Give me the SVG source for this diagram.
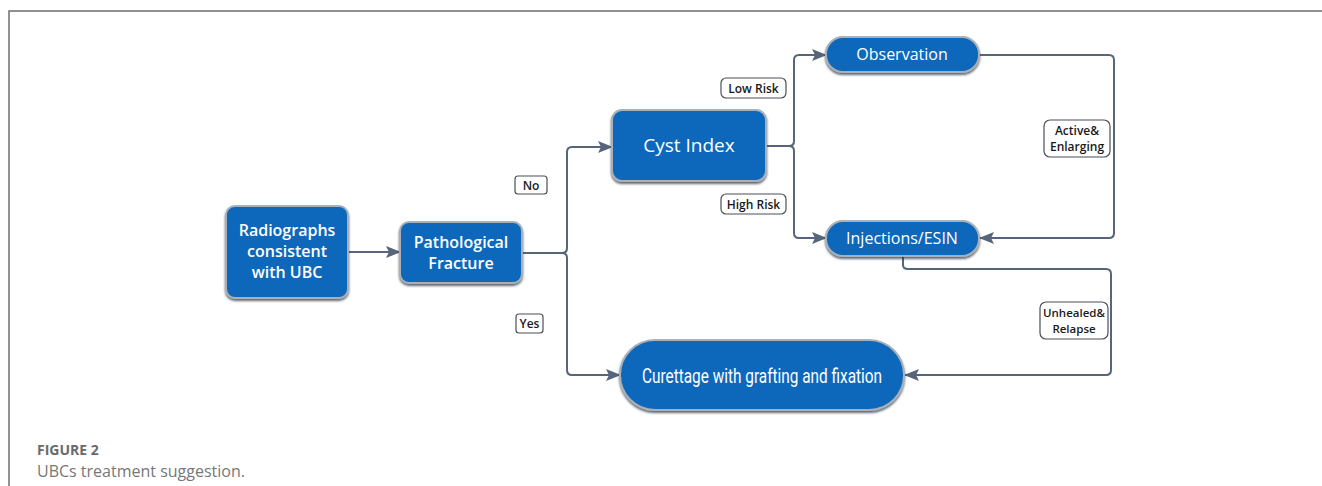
<svg xmlns="http://www.w3.org/2000/svg" width="1322" height="486" viewBox="0 0 1322 486">
<defs>
<marker id="arr" markerWidth="15" markerHeight="12" refX="14" refY="6" orient="auto" markerUnits="userSpaceOnUse">
<path d="M0,0 L15,6 L0,12 L3,6 Z" fill="#56657a"/>
</marker>
<filter id="sh" x="-10%" y="-10%" width="120%" height="130%">
<feDropShadow dx="0" dy="2" stdDeviation="1.2" flood-color="#1c2a3a" flood-opacity="0.7"/>
</filter>
</defs>
<style>
.node{fill:#0a67bb;stroke:#a9b0b8;stroke-width:2;filter:url(#sh)}
.nt{fill:#ffffff;font-family:"Open Sans","Liberation Sans",sans-serif;font-weight:600;text-anchor:middle}
.lab{fill:#ffffff;stroke:#4a4f55;stroke-width:1.2}
.lt{fill:#1a1a1a;font-family:"Open Sans","Liberation Sans",sans-serif;font-weight:600;font-size:12px;text-anchor:middle}
.c{fill:none;stroke:#56657a;stroke-width:2}
.cap{font-family:"Open Sans","Liberation Sans",sans-serif}
</style>
<rect width="1322" height="486" fill="#ffffff"/>
<path d="M9,486 V11 H1322" fill="none" stroke="#6e6e6e" stroke-width="1.5"/>

<g id="connectors">
<path class="c" d="M348,252 H400" marker-end="url(#arr)"/>
<path class="c" d="M522,253 H562 Q567,253 567,248 V152 Q567,147 572,147 H612" marker-end="url(#arr)"/>
<path class="c" d="M562,253 Q567,253 567,258 V370 Q567,375 572,375 H620" marker-end="url(#arr)"/>
<path class="c" d="M766,146 H789 Q794,146 794,141 V60 Q794,55 799,55 H826" marker-end="url(#arr)"/>
<path class="c" d="M789,146 Q794,146 794,151 V233 Q794,238 799,238 H826" marker-end="url(#arr)"/>
<path class="c" d="M979,55 H1109 Q1114,55 1114,60 V233 Q1114,238 1109,238 H980" marker-end="url(#arr)"/>
<path class="c" d="M903,256 V265 Q903,269 908,269 H1106 Q1111,269 1111,274 V370 Q1111,375 1106,375 H905" marker-end="url(#arr)"/>
</g>

<g id="n-radiographs">
<rect class="node" x="226" y="206" width="122" height="92" rx="9"/>
<text class="nt" font-size="16" x="287" y="236">Radiographs</text>
<text class="nt" font-size="16" x="287" y="257">consistent</text>
<text class="nt" font-size="16" x="287" y="278">with UBC</text>
</g>
<g id="n-pathological">
<rect class="node" x="400" y="222" width="122" height="61" rx="9"/>
<text class="nt" font-size="16" x="461" y="248">Pathological</text>
<text class="nt" font-size="16" x="461" y="269">Fracture</text>
</g>
<g id="n-cyst">
<rect class="node" x="612" y="110" width="154" height="71" rx="10"/>
<text class="nt" font-size="19" x="689" y="152" style="font-weight:500">Cyst Index</text>
</g>
<g id="n-observation">
<rect class="node" x="826" y="37" width="153" height="35" rx="17"/>
<text class="nt" font-size="16" x="902" y="60" style="font-weight:500">Observation</text>
</g>
<g id="n-injections">
<rect class="node" x="826" y="221" width="153" height="35" rx="17"/>
<text class="nt" font-size="16" x="902" y="244" style="font-weight:500">Injections/ESIN</text>
</g>
<g id="n-curettage">
<rect class="node" x="620" y="340" width="284" height="70" rx="35"/>
<text class="nt" font-size="20" x="762" y="383" style="font-family:Roboto,'Liberation Sans',sans-serif;font-weight:400" textLength="240" lengthAdjust="spacingAndGlyphs">Curettage with grafting and fixation</text>
</g>

<g id="l-no"><rect class="lab" x="515" y="176" width="32" height="18" rx="3"/><text class="lt" x="531" y="189.5">No</text></g>
<g id="l-yes"><rect class="lab" x="516" y="314" width="27" height="19" rx="3"/><text class="lt" x="529.5" y="328">Yes</text></g>
<g id="l-low"><rect class="lab" x="721" y="78" width="65" height="20" rx="5"/><text class="lt" x="753.5" y="92.5">Low Risk</text></g>
<g id="l-high"><rect class="lab" x="721" y="194" width="65" height="20" rx="5"/><text class="lt" x="753.5" y="208.5">High Risk</text></g>
<g id="l-active"><rect class="lab" x="1044" y="120" width="66" height="37" rx="6"/><text class="lt" x="1077" y="135">Active&amp;</text><text class="lt" x="1077" y="151">Enlarging</text></g>
<g id="l-unhealed"><rect class="lab" x="1040" y="302" width="68" height="37" rx="6"/><text class="lt" x="1074" y="317" style="font-size:11.5px">Unhealed&amp;</text><text class="lt" x="1074" y="333" style="font-size:11.5px">Relapse</text></g>

<text class="cap" x="37" y="455" font-size="14" font-weight="700" fill="#6a6a6a">FIGURE 2</text>
<text class="cap" x="37" y="477" font-size="16" fill="#777777">UBCs treatment suggestion.</text>
</svg>
